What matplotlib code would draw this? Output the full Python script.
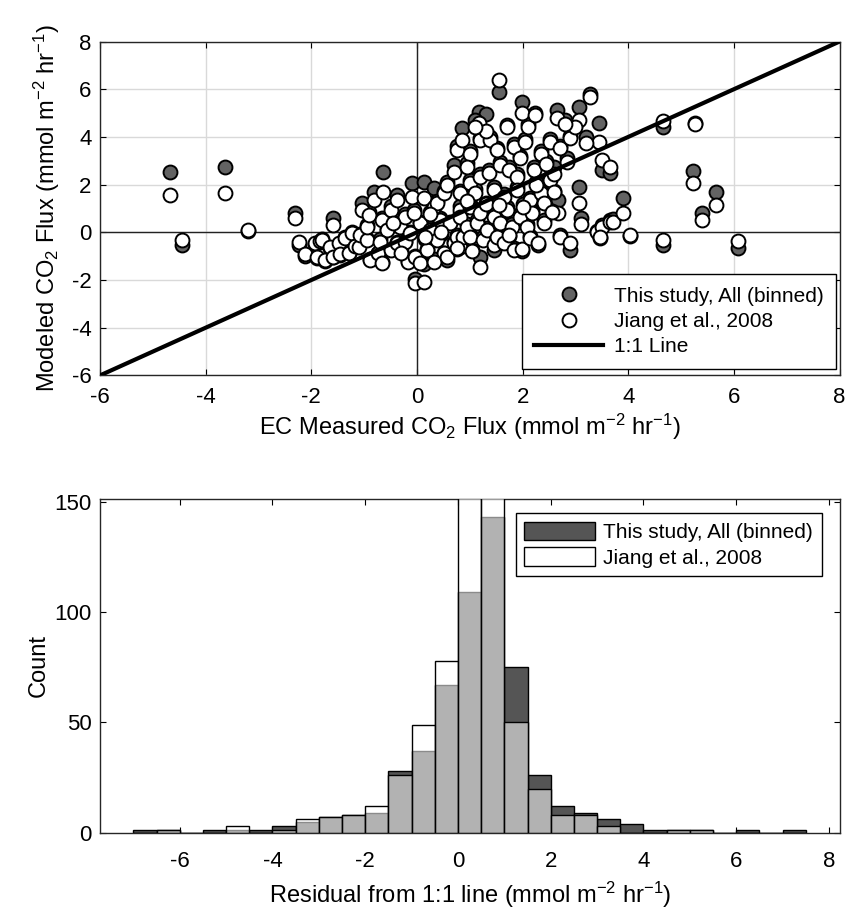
import matplotlib
matplotlib.use('Agg')
import matplotlib.pyplot as plt
from matplotlib.lines import Line2D
from matplotlib.patches import Patch
import numpy as np

plt.rcParams['font.family'] = ['Liberation Sans', 'DejaVu Sans']
plt.rcParams['mathtext.default'] = 'regular'
plt.rcParams['axes.unicode_minus'] = False

# --- scatter data: EC measured flux and modeled fluxes (paired) ---
measured = [
    -4.67, -4.45, -3.63, -3.20, -2.30, -2.24, -2.12, -1.93, -1.89, -1.83,
    -1.80, -1.74, -1.64, -1.58, -1.58, -1.48, -1.45, -1.36, -1.29, -1.23,
    -1.17, -1.10, -1.07, -1.04, -0.95, -0.95, -0.91, -0.89, -0.82, -0.73,
    -0.66, -0.66, -0.64, -0.57, -0.50, -0.50, -0.38, -0.38, -0.32, -0.22,
    -0.22, -0.16, -0.13, -0.09, -0.03, -0.03, 0.13, 0.06, 0.13, 0.19,
    0.25, 0.32, 0.38, 0.38, 0.44, 0.51, 0.51, 0.57, 0.63, 0.70,
    0.70, 0.76, 0.76, 0.82, 0.82, 0.82, 0.82, 0.85, 0.88, 0.95,
    1.01, 1.01, 1.01, 1.01, 1.10, 1.14, 1.17, 1.20, 1.20, 1.20,
    1.20, 1.26, 1.33, 1.36, 1.39, 1.45, 1.45, 1.45, 1.52, 1.52,
    1.56, 1.58, 1.58, 1.64, 1.64, 1.71, 1.71, 1.74, 1.80, 1.83,
    1.83, 1.89, 1.89, 1.96, 1.96, 1.99, 1.99, 2.05, 2.08, 2.11,
    2.14, 2.14, 2.18, 2.21, 2.24, 2.34, 2.34, 2.40, 2.40, 2.52,
    2.52, 2.59, 2.65, 2.68, 2.71, 2.71, 2.90, 2.90, 3.06, 3.06,
    3.10, 3.28, 3.41, 3.44, 3.50, 3.66, 3.50, 3.47, 3.66, 3.72,
    3.91, 4.03, 4.65, 4.65, 5.23, 5.27, 5.40, 5.67, 6.07,
    0.06, 0.32, 0.57, 0.76, 1.05, 0.25, -0.05, 0.15, 0.45, -0.30,
    -0.70, -0.45, 0.95, 1.30, 1.55, 1.75, 2.25, 2.45, 2.60, 2.85,
    3.00, 2.80, 1.30, 1.10, 0.95, 3.20, 2.00, 2.30, 2.55,
]
modeled_this = [
    2.53, -0.53, 2.75, 0.05, 0.82, -0.55, -1.00, -0.50, -1.08, -0.40,
    -0.30, -1.20, -0.65, 0.59, -1.05, -0.50, -0.95, -0.20, -0.85, 0.00,
    -0.62, -0.55, -0.05, 1.22, -0.28, 0.30, 0.85, -1.10, 1.70, -0.85,
    -1.25, 0.60, 2.54, 0.15, -0.70, 1.10, -0.42, 1.55, 0.30, -0.35,
    0.75, -1.20, 0.02, 2.05, -1.00, -1.95, -1.33, 0.45, 2.12, -0.70,
    0.20, 1.85, -0.28, 1.30, 0.60, -0.85, 1.75, 2.10, 0.45, -0.42,
    2.82, 3.60, -0.10, 1.10, 1.75, 0.75, -0.55, 4.36, -0.10, 0.35,
    3.40, 2.20, 1.20, -0.10, 1.80, 0.50, 5.06, 3.95, 2.45, 0.90,
    -1.02, -0.20, 0.20, 2.60, 4.00, 1.90, 0.75, -0.74, 3.55, -0.10,
    5.90, 2.95, 0.50, 1.60, -0.40, 4.50, 1.05, 2.75, 0.35, 3.70,
    -0.65, 2.45, 1.90, 3.20, 0.75, 5.48, -0.77, 3.90, 0.35, 4.55,
    1.45, -0.15, 0.90, 2.75, 5.00, 3.40, 1.75, 1.30, 0.50, 3.90,
    2.30, 2.75, 5.13, 1.35, 3.60, -0.10, 4.05, -0.74, 5.27, 1.91,
    0.60, 5.80, 0.05, 4.57, 2.61, 2.47, 0.30, -0.25, 0.50, 0.55,
    1.43, -0.15, 4.43, -0.54, 2.58, 4.60, 0.80, 1.70, -0.67,
    -1.25, -1.10, -1.15, -0.70, -0.75, 0.85, 0.95, -0.30, -0.05, -0.80,
    -0.30, 0.45, 1.40, 1.25, 1.30, -0.15, 2.10, 3.00, 1.75, 3.10,
    4.50, 4.70, 4.95, 4.70, 2.90, 4.00, 1.20, -0.55, 0.90,
]
modeled_jiang = [
    1.55, -0.33, 1.66, 0.10, 0.59, -0.42, -0.92, -0.46, -1.02, -0.35,
    -0.32, -1.16, -0.60, 0.31, -1.02, -0.46, -0.90, -0.25, -0.88, -0.04,
    -0.59, -0.60, -0.11, 0.95, -0.32, 0.24, 0.73, -1.16, 1.35, -0.88,
    -1.30, 0.52, 1.70, 0.10, -0.74, 0.94, -0.46, 1.35, 0.24, -0.39,
    0.66, -1.23, -0.04, 1.50, -1.02, -2.12, -2.07, 0.38, 1.43, -0.74,
    0.10, 1.08, -0.32, 1.22, 0.52, -0.88, 1.64, 1.99, 0.38, -0.46,
    2.55, 3.45, -0.18, 0.94, 1.63, 0.66, -0.60, 3.87, -0.18, 0.24,
    3.30, 2.05, 1.08, -0.18, 1.63, 0.38, 4.57, 3.87, 2.33, 0.80,
    -1.44, -0.32, 0.10, 2.47, 3.87, 1.77, 0.66, -0.55, 3.45, -0.18,
    6.39, 2.82, 0.38, 1.49, -0.46, 4.43, 0.94, 2.61, 0.24, 3.59,
    -0.74, 2.33, 1.77, 3.10, 0.66, 4.99, -0.70, 3.80, 0.24, 4.43,
    1.35, -0.25, 0.80, 2.61, 4.92, 3.30, 1.63, 1.21, 0.38, 3.80,
    2.20, 2.45, 4.78, 0.80, 3.52, -0.18, 3.94, -0.46, 4.71, 1.22,
    0.34, 5.66, 0.00, 3.80, 3.03, 2.75, 0.24, -0.18, 0.45, 0.45,
    0.80, -0.11, 4.68, -0.33, 2.05, 4.54, 0.52, 1.14, -0.35,
    -1.30, -1.23, -1.05, -0.65, -0.80, 0.75, 0.80, -0.20, 0.00, -0.85,
    -0.40, 0.40, 1.30, 1.20, 1.15, -0.10, 2.00, 2.85, 1.70, 2.95,
    4.40, 4.55, 4.25, 4.40, 2.75, 3.75, 1.05, -0.45, 0.85,
]
one_to_one = [-6, 8]

# --- residual histogram (bin width 0.5) ---
bin_left = [-7.0, -6.5, -6.0, -5.5, -5.0, -4.5, -4.0, -3.5, -3.0, -2.5,
            -2.0, -1.5, -1.0, -0.5, 0.0, 0.5, 1.0, 1.5, 2.0, 2.5,
            3.0, 3.5, 4.0, 4.5, 5.0, 5.5, 6.0, 6.5, 7.0]
count_this = [1, 1, 0, 1, 1, 1, 3, 5, 7, 8,
              9, 28, 37, 67, 109, 143, 75, 26, 12, 9,
              6, 4, 1, 1, 1, 0, 1, 0, 1]
count_jiang = [0, 1, 0, 0, 3, 0, 1, 6, 7, 8,
               12, 26, 49, 78, 165, 170, 50, 20, 8, 8,
               3, 0, 0, 1, 1, 0, 0, 0, 0]

fig = plt.figure(figsize=(8.51, 9.13), dpi=100)
ax1 = fig.add_axes([0.1175, 0.5888, 0.869, 0.3657])
ax2 = fig.add_axes([0.1175, 0.088, 0.8696, 0.3655])

# top: scatter
ax1.grid(True, color='#d9d9d9', lw=1)
ax1.set_axisbelow(True)
ax1.axhline(0, color='#222222', lw=1, zorder=1)
ax1.axvline(0, color='#222222', lw=1, zorder=1)
ax1.scatter(measured, modeled_this, s=100, facecolor='#636363',
            edgecolor='black', lw=1.4, zorder=2)
ax1.scatter(measured, modeled_jiang, s=100, facecolor='white',
            edgecolor='black', lw=1.4, zorder=3)
ax1.plot(one_to_one, one_to_one, color='black', lw=3, zorder=4)
ax1.set_xlim(-6, 8)
ax1.set_ylim(-6, 8)
ax1.set_xticks(range(-6, 9, 2))
ax1.set_yticks(range(-6, 9, 2))
ax1.set_xlabel(r'EC Measured CO$_2$ Flux (mmol m$^{-2}$ hr$^{-1}$)', fontsize=17, labelpad=3)
ax1.set_ylabel(r'Modeled CO$_2$ Flux (mmol m$^{-2}$ hr$^{-1}$)', fontsize=17, labelpad=7)

h1 = [Line2D([], [], ls='none', marker='o', ms=10, mfc='#636363', mec='black', mew=1.4),
      Line2D([], [], ls='none', marker='o', ms=10, mfc='white', mec='black', mew=1.4),
      Line2D([], [], color='black', lw=3)]
leg1 = ax1.legend(h1, ['This study, All (binned)', 'Jiang et al., 2008', '1:1 Line'],
                  loc='lower right', bbox_to_anchor=(0.995, 0.02), borderaxespad=0,
                  fontsize=15, fancybox=False, edgecolor='black', framealpha=1,
                  handlelength=3.3, handletextpad=0.5, labelspacing=0.3, borderpad=0.6)
leg1.get_frame().set_linewidth(1)

# bottom: overlapping histograms
ax2.bar(bin_left, count_this, width=0.5, align='edge', color='#555555',
        edgecolor='black', lw=1, zorder=2)
ax2.bar(bin_left, count_jiang, width=0.5, align='edge', color=(1, 1, 1, 0.55),
        edgecolor='black', lw=1, zorder=3)
ax2.set_xlim(-7.72, 8.24)
ax2.set_ylim(0, 151.3)
ax2.set_xticks(range(-6, 9, 2))
ax2.set_yticks([0, 50, 100, 150])
ax2.set_xlabel(r'Residual from 1:1 line (mmol m$^{-2}$ hr$^{-1}$)', fontsize=17, labelpad=6)
ax2.set_ylabel('Count', fontsize=17, labelpad=3)

h2 = [Patch(facecolor='#555555', edgecolor='black'),
      Patch(facecolor='white', edgecolor='black')]
leg2 = ax2.legend(h2, ['This study, All (binned)', 'Jiang et al., 2008'],
                  loc='upper right', bbox_to_anchor=(0.975, 0.957), borderaxespad=0,
                  fontsize=15, fancybox=False, edgecolor='black', framealpha=1,
                  handlelength=3.4, handleheight=1.0, handletextpad=0.4,
                  labelspacing=0.25, borderpad=0.4)
leg2.get_frame().set_linewidth(1)

for ax in (ax1, ax2):
    ax.tick_params(direction='in', length=4.5, width=0.8, labelsize=16,
                   top=True, right=True)
    ax.tick_params(axis='y', pad=6)
    for sp in ax.spines.values():
        sp.set_color('#262626')
        sp.set_linewidth(1)
ax1.tick_params(axis='x', pad=8)
ax2.tick_params(axis='x', pad=13)

fig.savefig('out.png', dpi=100)
